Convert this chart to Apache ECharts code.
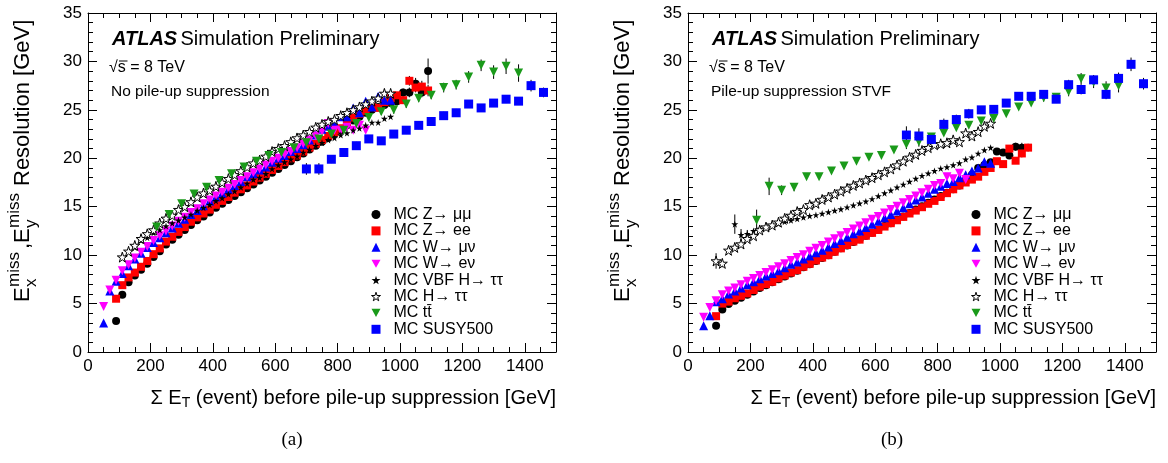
<!DOCTYPE html>
<html><head><meta charset="utf-8">
<script src="https://cdn.jsdelivr.net/npm/echarts@6/dist/echarts.min.js"></script>
<style>html,body{margin:0;padding:0;background:#fff}#c{width:1168px;height:463px}</style>
</head><body><div id="c"></div>
<script>
// ---- legend / series names ----
const names = ["MC Z\u2192 \u03bc\u03bc", "MC Z\u2192 ee", "MC W\u2192 \u03bc\u03bd", "MC W\u2192 e\u03bd",
  "MC VBF H\u2192 \u03c4\u03c4", "MC H\u2192 \u03c4\u03c4", "MC tt\u0304", "MC SUSY500"];
const xTicks = [0, 200, 400, 600, 800, 1000, 1200, 1400];
const yTicks = [0, 5, 10, 15, 20, 25, 30, 35];

// ---- panel (a): no pile-up suppression ---- [sumET, resolution, (error)]
const zmmA = [[90,3.2],[110,5.9],[130,7.2],[150,7.9],[170,8.5],[190,9.1],[210,9.8],[230,10.4],[250,11.1],[270,11.6],[290,12.1],[310,12.6],[330,13.1],[350,13.6],[370,14.0],[390,14.4],[410,14.9],[430,15.3],[450,15.7],[470,16.1],[490,16.5],[510,16.9],[530,17.3],[550,17.7],[570,18.1],[590,18.5],[610,18.9],[630,19.3],[650,19.7],[670,20.1],[690,20.5],[710,20.9],[730,21.3],[750,21.7],[770,22.1],[790,22.5],[810,22.9],[830,23.4],[850,23.9],[870,24.3],[890,24.7],[910,25.0],[930,25.3],[950,25.5],[970,25.7],[990,25.9,0.3],[1010,26.8,0.4],[1030,26.8,0.5],[1050,27.7,0.6],[1070,26.8,0.5],[1090,29.0,1.3]];
const zeeA = [[90,5.5],[110,6.9],[130,7.7],[150,8.2],[170,8.8],[190,9.4],[210,10.1],[230,10.7],[250,11.4],[270,11.9],[290,12.4],[310,12.9],[330,13.45],[350,13.9],[370,14.3],[390,14.7],[410,15.2],[430,15.6],[450,16.0],[470,16.45],[490,16.8],[510,17.2],[530,17.6],[550,18.0],[570,18.4],[590,18.8],[610,19.2],[630,19.6],[650,20.0],[670,20.3],[690,20.7],[710,21.1],[730,21.5],[750,21.9],[770,22.3],[790,22.7],[810,23.1],[830,23.6],[850,24.2],[870,24.6],[890,24.9],[910,25.3],[930,25.2],[950,25.8],[970,26.2],[990,26.5,0.3],[1010,26.0,0.4],[1030,28.0,0.5],[1050,27.3,0.5],[1070,27.4,0.6],[1090,27.0,0.6]];
const wmnA = [[50,3.0],[70,6.3],[90,7.3],[110,8.1],[130,8.9],[150,9.6],[170,10.2],[190,10.8],[210,11.3],[230,11.8],[250,12.3],[270,12.8],[290,13.3],[310,13.7],[330,14.2],[350,14.6],[370,15.1],[390,15.6],[410,16.0],[430,16.4],[450,16.8],[470,17.2],[490,17.6],[510,18.1],[530,18.4],[550,18.8],[570,19.1],[590,19.6],[610,20.0],[630,20.3],[650,20.7],[670,21.0],[690,21.4],[710,21.9],[730,22.4],[750,23.0],[770,23.3],[790,23.6],[810,24.3],[830,24.3],[850,25.2],[870,24.7],[890,25.9],[910,25.3],[930,26.4],[950,26.0],[970,26.0]];
const wenA = [[50,4.7],[70,6.4],[90,7.4],[110,8.4],[130,9.0],[150,9.7],[170,10.3],[190,10.9],[210,11.5],[230,12.0],[250,12.5],[270,13.0],[290,13.5],[310,13.9],[330,14.4],[350,14.8],[370,15.3],[390,15.7],[410,16.1],[430,16.5],[450,16.9],[470,17.3],[490,17.7],[510,18.1],[530,18.5],[550,18.9],[570,19.3],[590,19.7],[610,20.0],[630,20.4],[650,20.7],[670,21.1],[690,21.5],[710,21.9],[730,22.3],[750,22.8],[770,23.6],[790,22.9],[810,22.9],[830,23.2],[850,22.9],[870,23.4],[890,22.9]];
const vbfA = [[150,10.8],[170,11.5],[190,11.8],[210,12.3],[230,12.6],[250,13.0],[270,13.3],[290,13.6],[310,13.9],[330,14.2],[350,14.6],[370,14.9],[390,15.2],[410,15.6],[430,15.9],[450,16.3],[470,16.6],[490,17.0],[510,17.4],[530,17.8],[550,18.0],[570,18.4],[590,18.9],[610,19.3],[630,19.6],[650,19.9],[670,20.2],[690,20.6],[710,20.9],[730,21.3],[750,21.6],[770,21.9],[790,22.1],[810,22.4],[830,22.6],[850,22.9],[870,23.1],[890,23.4],[910,23.7],[930,23.7],[950,24.1],[970,24.3]];
const httA = [[110,9.8],[130,10.4],[150,11.0],[170,11.7],[190,12.2],[210,12.6],[230,13.3],[250,13.8],[270,14.1],[290,14.7],[310,15.0],[330,15.5],[350,16.0],[370,16.4],[390,16.7],[410,17.1],[430,17.5],[450,17.9],[470,18.3],[490,18.7],[510,19.1],[530,19.5],[550,19.8],[570,20.2],[590,20.7],[610,21.0],[630,21.3],[650,21.7],[670,22.1],[690,22.4],[710,22.75],[730,23.2],[750,23.5],[770,23.8],[790,24.0],[810,24.4],[830,24.7],[850,25.0],[870,25.3,0.3],[890,25.6,0.3],[910,25.9,0.3],[930,26.2,0.4],[950,26.7,0.4],[970,26.7,0.4]];
const ttA = [[220,12.9,0.5],[260,14.2,0.4],[300,15.3,0.4],[340,16.3,0.3],[380,17.0],[420,17.7],[460,18.4],[500,19.1],[540,19.7],[580,20.3],[620,20.6],[660,21.1],[700,21.6],[740,22.0],[780,22.5],[820,22.9],[860,23.6],[900,24.2,0.3],[940,24.8,0.3],[980,25.0,0.4],[1020,25.6,0.4],[1060,26.2,0.4],[1100,26.5,0.4],[1140,27.3,0.5],[1180,27.6,0.5],[1220,28.4,0.6],[1260,29.6,0.6],[1300,28.9,0.7],[1340,29.5,0.8],[1380,28.8,0.9]];
const susyA = [[700,18.9,0.6],[740,18.9,0.6],[780,19.9,0.4],[820,20.6,0.4],[860,21.3,0.4],[900,22.0,0.4],[940,21.8,0.4],[980,22.5,0.4],[1020,22.9,0.4],[1060,23.4,0.4],[1100,23.8,0.4],[1140,24.4,0.4],[1180,24.7,0.4],[1220,25.6,0.4],[1260,25.2,0.4],[1300,25.7,0.4],[1340,26.1,0.4],[1380,25.9,0.4],[1420,27.5,0.6],[1460,26.8,0.5]];

// ---- panel (b): pile-up suppression STVF ----
const zmmB = [[90,2.7],[110,4.4],[130,4.95],[150,5.3],[170,5.6],[190,5.9],[210,6.25],[230,6.6],[250,6.9],[270,7.2],[290,7.5],[310,7.8],[330,8.1],[350,8.4],[370,8.75],[390,9.05],[410,9.4],[430,9.7],[450,10.0],[470,10.35],[490,10.7],[510,11.0],[530,11.35],[550,11.65],[570,12.0],[590,12.3],[610,12.65],[630,13.0],[650,13.3],[670,13.65],[690,14.0],[710,14.35],[730,14.7],[750,15.05],[770,15.4],[790,15.75],[810,16.1],[830,16.45],[850,16.8],[870,17.2],[890,17.6],[910,18.3],[930,19.0],[950,19.3],[970,19.6],[990,20.7],[1010,20.6,0.3],[1030,20.3,0.3],[1050,21.2,0.4],[1070,21.1,0.5]];
const zeeB = [[90,3.7],[110,5.0],[130,5.2],[150,5.55],[170,5.8],[190,6.05],[210,6.4],[230,6.75],[250,7.0],[270,7.25],[290,7.6],[310,7.9],[330,8.2],[350,8.45],[370,8.8],[390,9.1],[410,9.45],[430,9.75],[450,10.0],[470,10.35],[490,10.7],[510,11.05],[530,11.4],[550,11.6],[570,12.0],[590,12.3],[610,12.6],[630,12.95],[650,13.3],[670,13.6],[690,13.95],[710,14.3],[730,14.6],[750,14.95],[770,15.3],[790,15.6],[810,16.0],[830,16.4],[850,16.8],[870,17.2],[890,17.5],[910,17.8],[930,18.1],[950,18.6],[970,19.0],[990,19.7],[1010,19.4],[1030,21.0,0.3],[1050,19.75,0.3],[1070,20.5,0.4],[1090,21.1,0.4]];
const wmnB = [[50,2.7],[70,3.75],[90,5.2],[110,5.5],[130,6.0],[150,6.3],[170,6.6],[190,6.95],[210,7.25],[230,7.55],[250,7.85],[270,8.1],[290,8.4],[310,8.7],[330,9.05],[350,9.3],[370,9.6],[390,9.9],[410,10.25],[430,10.5],[450,10.85],[470,11.2],[490,11.5],[510,11.85],[530,12.2],[550,12.5],[570,12.85],[590,13.2],[610,13.5],[630,13.85],[650,14.2],[670,14.55],[690,14.9],[710,15.3],[730,15.7],[750,16.0],[770,16.4],[790,16.8],[810,17.1],[830,17.4],[850,17.6],[870,18.0],[890,18.3],[910,18.7],[930,19.0],[950,19.65],[970,19.5]];
const wenB = [[50,3.6],[70,4.6],[90,5.3],[110,5.9],[130,6.3],[150,6.6],[170,6.95],[190,7.3],[210,7.6],[230,7.9],[250,8.2],[270,8.5],[290,8.8],[310,9.1],[330,9.45],[350,9.75],[370,10.05],[390,10.4],[410,10.7],[430,11.0],[450,11.35],[470,11.7],[490,12.0],[510,12.35],[530,12.7],[550,13.0],[570,13.35],[590,13.7],[610,14.0],[630,14.35],[650,14.7],[670,15.05],[690,15.4],[710,15.75],[730,16.1],[750,16.45],[770,16.8],[790,17.2],[810,17.4],[830,18.1],[850,17.9],[870,18.45],[890,17.8]];
const vbfB = [[150,13.2,1.0],[170,12.1,0.6],[190,12.2,0.4],[210,12.5],[230,12.75],[250,12.9],[270,13.1],[290,13.25],[310,13.45],[330,13.6],[350,13.75],[370,13.9],[390,14.05],[410,14.15],[430,14.3],[450,14.45],[470,14.6],[490,14.75],[510,14.95],[530,15.15],[550,15.35],[570,15.55],[590,15.8],[610,16.1],[630,16.4],[650,16.7],[670,17.0],[690,17.3],[710,17.6],[730,17.9],[750,18.2],[770,18.45],[790,18.7],[810,18.95],[830,19.1],[850,19.3],[870,19.5],[890,19.9],[910,20.1],[930,20.5],[950,20.85],[970,21.1]];
const httB = [[90,9.4,0.8],[110,9.15,0.4],[130,10.5],[150,10.8],[170,11.15],[190,11.7],[210,12.0],[230,12.6],[250,12.9],[270,13.1],[290,13.4],[310,13.8],[330,14.1],[350,14.5],[370,14.7],[390,15.2],[410,15.35],[430,15.75],[450,16.0],[470,16.3],[490,16.6],[510,16.9],[530,17.2],[550,17.45],[570,17.75],[590,18.0],[610,18.3],[630,18.6],[650,18.9],[670,19.3],[690,19.7],[710,20.1],[730,20.4],[750,20.8],[770,21.1],[790,21.4],[810,21.5],[830,21.6],[850,21.9],[870,21.7],[890,22.6],[910,22.3],[930,22.75],[950,23.3],[970,23.6]];
const ttB = [[220,13.6,1.1],[260,17.1,0.9],[300,16.7,0.5],[340,17.0,0.4],[380,18.1],[420,18.1],[460,18.7],[500,19.2],[540,19.7],[580,20.1],[620,20.3],[660,20.85],[700,21.45,0.5],[740,21.7,0.5],[780,22.2,0.4],[820,22.6],[860,23.15],[900,23.4],[940,23.85],[980,24.1],[1020,24.6],[1060,25.3],[1100,25.7],[1140,26.25,0.4],[1180,26.3,0.4],[1220,26.9,0.5],[1260,28.2,0.6],[1300,27.85,0.6],[1340,27.25,0.7],[1380,27.5,0.7]];
const susyB = [[700,22.4,0.9],[740,22.3,0.8],[780,21.95,0.6],[820,23.5,0.6],[860,24.0,0.5],[900,24.6,0.5],[940,25.0,0.4],[980,25.05,0.4],[1020,25.7,0.4],[1060,26.4,0.4],[1100,26.4,0.4],[1140,26.6,0.4],[1180,26.1,0.4],[1220,27.6,0.5],[1260,27.1,0.5],[1300,28.1,0.5],[1340,26.6,0.5],[1380,28.25,0.6],[1420,29.7,0.7],[1460,27.7,0.6]];

const panelA = [zmmA, zeeA, wmnA, wenA, vbfA, httA, ttA, susyA];
const panelB = [zmmB, zeeB, wmnB, wenB, vbfB, httB, ttB, susyB];
const panelText = ["No pile-up suppression", "Pile-up suppression STVF"];
const captions = ["(a)", "(b)"];

// ---- styles ----
const FONT = "Liberation Sans, Arial, Helvetica, sans-serif";
const SERIF = "Liberation Serif, Times New Roman, serif";
const STAR = 'path://M50,0 L61,35 L98,35 L68,57 L79,91 L50,70 L21,91 L32,57 L2,35 L39,35 Z';
const DOWN = 'path://M0,0 L10,0 L5,9 Z';
const styles = [
  {symbol: 'circle', size: 8, color: '#000000'},
  {symbol: 'rect', size: 8, color: '#ff0000'},
  {symbol: 'triangle', size: 9, color: '#0000ff'},
  {symbol: DOWN, size: 9, color: '#ff00ff'},
  {symbol: STAR, size: 7, color: '#000000'},
  {symbol: STAR, size: 10, color: '#ffffff', border: '#000000'},
  {symbol: DOWN, size: 9, color: '#1a9a1a'},
  {symbol: 'rect', size: 9, color: '#0000ff'}
];
const GRIDS = [{left: 88, top: 13, width: 468, height: 339}, {left: 688, top: 13, width: 468, height: 339}];

function txt(text, x, y, size, extra) {
  return Object.assign({type: 'text', x: x, y: y, style: Object.assign({
    text: text, fill: '#000', fontFamily: FONT, fontSize: size, verticalAlign: 'middle'}, extra || {})});
}

function xAxisDef(gi, pos, labels) {
  return {
    type: 'value', gridIndex: gi, position: pos, min: 0, max: 1500, interval: 200,
    axisLine: {show: true, onZero: false, lineStyle: {color: '#000', width: 1}},
    axisTick: {show: true, inside: true, length: 9, lineStyle: {color: '#000'}},
    minorTick: {show: true, splitNumber: 4, length: 5, lineStyle: {color: '#000'}},
    splitLine: {show: false},
    axisLabel: {show: labels, color: '#000', fontFamily: FONT, fontSize: 17, margin: 6,
      formatter: v => (xTicks.indexOf(v) >= 0 ? String(v) : '')}
  };
}
function yAxisDef(gi, pos, labels) {
  return {
    type: 'value', gridIndex: gi, position: pos, min: 0, max: 35, interval: 5,
    axisLine: {show: true, onZero: false, lineStyle: {color: '#000', width: 1}},
    axisTick: {show: true, inside: true, length: 9, lineStyle: {color: '#000'}},
    minorTick: {show: true, splitNumber: 5, length: 5, lineStyle: {color: '#000'}},
    splitLine: {show: false},
    axisLabel: {show: labels, color: '#000', fontFamily: FONT, fontSize: 17, margin: 6,
      formatter: v => (yTicks.indexOf(v) >= 0 ? String(v) : '')}
  };
}

const legendData = names.map((n, i) => styles[i].border
  ? {name: n, itemStyle: {color: styles[i].color, borderColor: styles[i].border, borderWidth: 1}}
  : {name: n});

const xAxes = [], yAxes = [], series = [], legends = [], graphics = [];
[panelA, panelB].forEach((panel, pi) => {
  xAxes.push(xAxisDef(pi, 'bottom', true), xAxisDef(pi, 'top', false));
  yAxes.push(yAxisDef(pi, 'left', true), yAxisDef(pi, 'right', false));
  const xi = pi * 2, yi = pi * 2;
  panel.forEach((data, si) => {
    const st = styles[si];
    series.push({
      type: 'custom', xAxisIndex: xi, yAxisIndex: yi, silent: true, z: 1,
      data: data.filter(d => d.length > 2),
      renderItem: (params, api) => {
        const x = api.value(0), y = api.value(1), e = api.value(2);
        const p1 = api.coord([x, y - e]), p2 = api.coord([x, y + e]);
        return {type: 'line', shape: {x1: p1[0], y1: p1[1], x2: p2[0], y2: p2[1]},
          style: {stroke: '#000', lineWidth: 1}};
      }
    });
    series.push({
      type: 'scatter', name: names[si], xAxisIndex: xi, yAxisIndex: yi, z: 2 + si,
      data: data.map(d => [d[0], d[1]]),
      symbol: st.symbol, symbolSize: st.size,
      itemStyle: st.border ? {color: st.color, borderColor: st.border, borderWidth: 1, opacity: 1}
                           : {color: st.color, opacity: 1},
      emphasis: {disabled: true}
    });
  });
  const gx = GRIDS[pi].left;
  legends.push({
    left: gx + 278, top: 201.5, orient: 'vertical', selectedMode: false,
    itemWidth: 9, itemHeight: 9, itemGap: 0.4, data: legendData,
    formatter: n => '{a|' + n + '}',
    textStyle: {color: '#000', rich: {a: {fontFamily: FONT, fontSize: 16, lineHeight: 16, color: '#000', padding: [0, 0, 0, 8]}}}
  });
  graphics.push(
    {type: 'text', x: gx + 24, y: 39.5, style: {
      text: '{b|ATLAS} {n|Simulation Preliminary}', fill: '#000', verticalAlign: 'middle',
      rich: {b: {fontFamily: FONT, fontSize: 20, fontWeight: 'bold', fontStyle: 'italic', fill: '#000'},
             n: {fontFamily: FONT, fontSize: 20, fill: '#000'}}}},
    txt('\u221As = 8 TeV', gx + 21, 68, 16),
    {type: 'line', shape: {x1: gx + 31, y1: 61, x2: gx + 39.5, y2: 61}, style: {stroke: '#000', lineWidth: 1}},
    txt(panelText[pi], gx + 23, 92, 15.5),
    {type: 'text', x: gx + 468, y: 398, style: {
      text: '\u03a3 E{s|T} (event) before pile-up suppression [GeV]', fill: '#000',
      fontFamily: FONT, fontSize: 20, lineHeight: 24, align: 'right', verticalAlign: 'middle',
      rich: {s: {fontFamily: FONT, fontSize: 14, lineHeight: 24, verticalAlign: 'bottom', fill: '#000'}}}},
    txt(captions[pi], gx + 204, 440, 19, {fontFamily: SERIF, align: 'center'}),
    {type: 'group', x: gx - 65, y: 302, rotation: Math.PI / 2, children: [
      txt('E', 0, 0, 22),
      txt('miss', 15, -9, 17),
      txt('x', 15, 8, 17),
      txt(',E', 53, 0, 22),
      txt('miss', 74, -9, 17),
      txt('y', 74, 8, 17),
      txt('Resolution [GeV]', 116, 0, 22)
    ]}
  );
});

const chart = echarts.init(document.getElementById('c'), null, {renderer: 'canvas'});
chart.setOption({
  animation: false,
  backgroundColor: '#fff',
  grid: GRIDS,
  xAxis: xAxes,
  yAxis: yAxes,
  legend: legends,
  series: series,
  graphic: graphics
});
</script>
</body></html>
